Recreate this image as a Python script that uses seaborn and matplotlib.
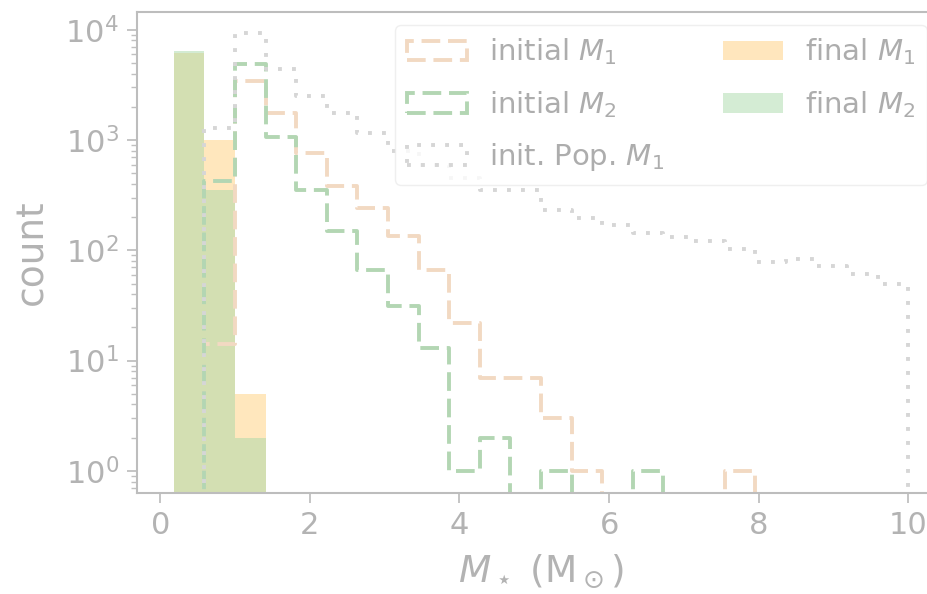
import numpy as np
import pandas as pd
import seaborn as sns
import matplotlib.pyplot as plt
from matplotlib.patches import Patch

# histogram bins in M_sun (last bin is an empty closing bin)
bin_edges = np.linspace(0.18, 10.41, 26)
bin_centers = 0.5 * (bin_edges[:-1] + bin_edges[1:])
bins = bin_edges.tolist()

# counts per bin
init_m1 = [0, 14, 3450, 1760, 760, 380, 240, 136, 67, 22, 7, 7, 3, 1, 0, 0, 0, 0, 1, 0, 0, 0, 0, 0, 0]
init_m2 = [0, 425, 4900, 1060, 350, 150, 67, 31, 13, 1, 2, 0, 1, 0, 0, 1, 0, 0, 0, 0, 0, 0, 0, 0, 0]
pop_m1 = [0, 1290, 9400, 4400, 2500, 1760, 1150, 800, 600, 455, 350, 350, 232, 196, 170, 144,
          132, 122, 103, 79, 83, 72, 61, 50, 0]
final_m1 = [6100, 1000, 5] + [0] * 22
final_m2 = [6400, 350, 2] + [0] * 22

df = pd.DataFrame({
    'mass': bin_centers,
    'init_m1': init_m1,
    'init_m2': init_m2,
    'pop_m1': pop_m1,
    'final_m1': final_m1,
    'final_m2': final_m2,
})

grey = '#b3b3b3'
sns.set_theme(style='ticks', rc={
    'axes.edgecolor': '#bdbdbd',
    'axes.linewidth': 1.5,
    'axes.labelcolor': grey,
    'text.color': grey,
    'xtick.color': '#c0c0c0',
    'ytick.color': '#c0c0c0',
    'xtick.labelcolor': grey,
    'ytick.labelcolor': grey,
    'xtick.major.size': 7,
    'ytick.major.size': 7,
    'ytick.minor.size': 4,
    'xtick.major.width': 1.3,
    'ytick.major.width': 1.3,
    'ytick.minor.width': 1.0,
    'xtick.major.pad': 6,
    'ytick.major.pad': 6,
})
plt.rcParams['font.family'] = ['DejaVu Sans']

c_m1_line = '#f2d9c2'
c_m2_line = '#b3d6b3'
c_pop_line = '#d6d6d6'
dash = (0, (4.8, 2.0))
dot = (0, (1, 2.6))

fig = plt.figure(figsize=(9.28, 5.94), dpi=100)
ax = fig.add_axes([137 / 928, 101 / 594, 808 / 928, 481 / 594])
ax.set_yscale('log')

# final masses as filled bars
sns.histplot(data=df, x='mass', weights='final_m1', bins=bins, element='bars',
             color='#ffa500', alpha=0.26, linewidth=0, ax=ax)
sns.histplot(data=df, x='mass', weights='final_m2', bins=bins, element='bars',
             color='#a9d9a9', alpha=0.5, linewidth=0, ax=ax)

# initial masses as step outlines
sns.histplot(data=df, x='mass', weights='init_m1', bins=bins, element='step', fill=False,
             color=c_m1_line, linewidth=2.8, linestyle=dash, ax=ax)
sns.histplot(data=df, x='mass', weights='init_m2', bins=bins, element='step', fill=False,
             color=c_m2_line, linewidth=2.8, linestyle=dash, ax=ax)
sns.histplot(data=df, x='mass', weights='pop_m1', bins=bins, element='step', fill=False,
             color=c_pop_line, linewidth=2.8, linestyle=dot, ax=ax)

ax.set_xlim(-0.31, 10.49)
ax.set_ylim(0.63, 1.45e4)
ax.set_xticks([0, 2, 4, 6, 8, 10])
ax.tick_params(axis='both', labelsize=22)
ax.set_xlabel(r'$M_\star$ (M$_\odot$)', fontsize=27, labelpad=9)
ax.set_ylabel('count', fontsize=27, labelpad=11)

handles = [
    Patch(facecolor='none', edgecolor=c_m1_line, linewidth=2.8, linestyle=dash),
    Patch(facecolor='none', edgecolor=c_m2_line, linewidth=2.8, linestyle=dash),
    Patch(facecolor='none', edgecolor=c_pop_line, linewidth=2.8, linestyle=dot),
    Patch(facecolor='#ffe6bd', edgecolor='none'),
    Patch(facecolor='#d4ecd4', edgecolor='none'),
]
labels = [r'initial $M_1$', r'initial $M_2$', r'init. Pop. $M_1$', r'final $M_1$', r'final $M_2$']
leg = ax.legend(handles, labels, ncol=2, fontsize=21, loc='upper right',
                bbox_to_anchor=(927 / 928, 569 / 594), bbox_transform=fig.transFigure,
                borderaxespad=0, handlelength=2.07, handleheight=0.65, handletextpad=0.76,
                columnspacing=2.0, labelspacing=0.74, frameon=True, framealpha=0.8,
                edgecolor='#ebebeb', labelcolor='#adadad')

fig.savefig('out.png', dpi=100)
